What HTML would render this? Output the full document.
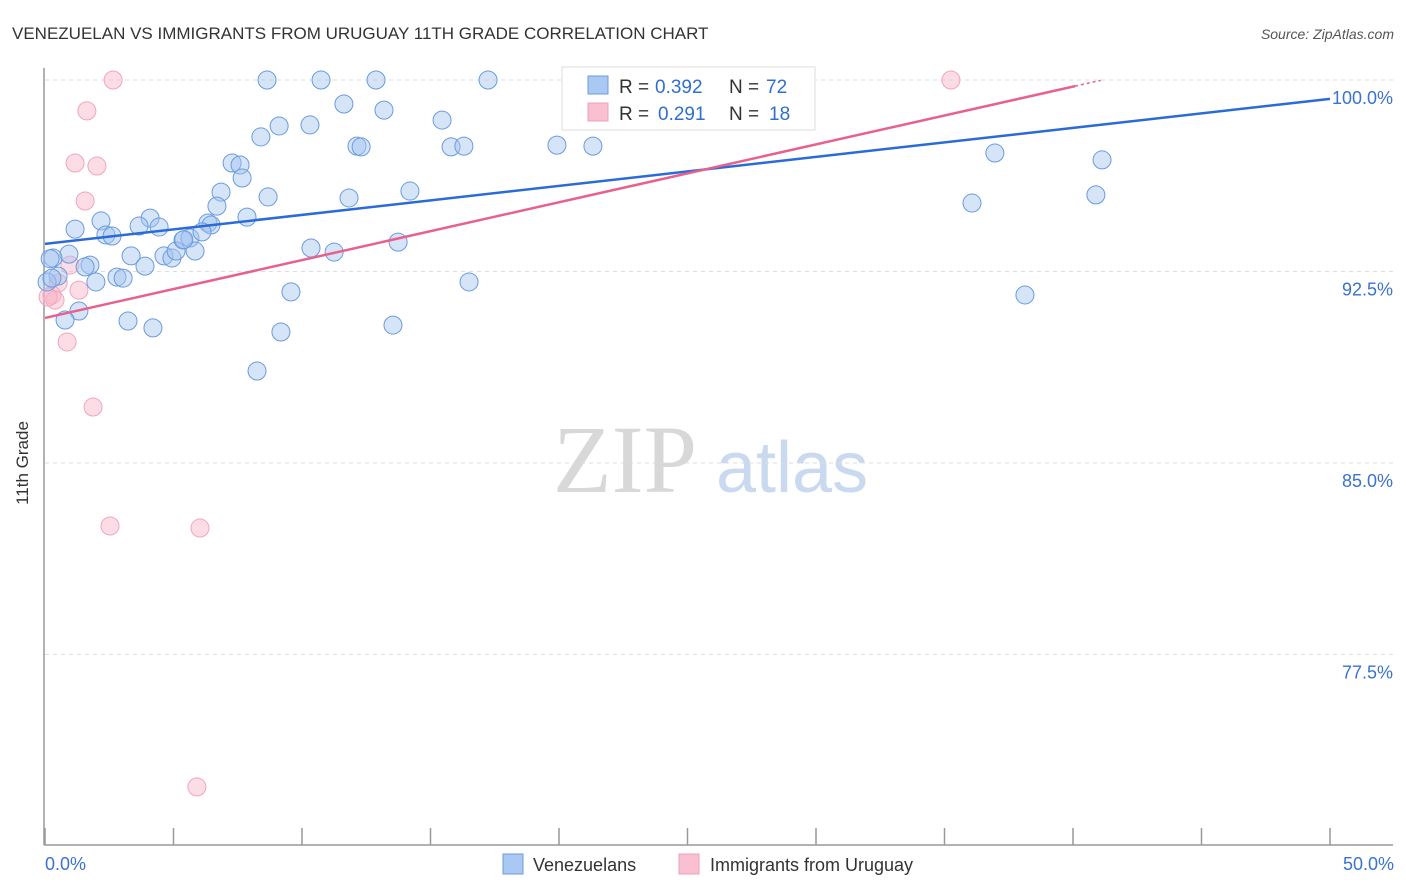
<!DOCTYPE html>
<html><head><meta charset="utf-8"><style>
body{margin:0;background:#fff;font-family:"Liberation Sans",sans-serif;}
svg{display:block}
</style></head><body>
<svg width="1406" height="892" viewBox="0 0 1406 892" xmlns="http://www.w3.org/2000/svg">
<text x="12" y="39" font-size="17" fill="#333">VENEZUELAN VS IMMIGRANTS FROM URUGUAY 11TH GRADE CORRELATION CHART</text>
<text x="1394" y="39" font-size="14" fill="#555" text-anchor="end" font-style="italic">Source: ZipAtlas.com</text>
<g>
<text x="553" y="492" font-size="96" fill="#d8d8d8" font-family="Liberation Serif,serif">ZIP</text>
<text x="716" y="492" font-size="72" fill="#c9d9f0">atlas</text>
</g>
<g id="grid"></g>
<g id="axes"></g>
<g id="pts"></g>
<g id="trend"></g>
<text x="20" y="455" font-size="17" fill="#333" transform="rotate(-90 28 455)" text-anchor="middle">11th Grade</text>
<g>
<rect x="562" y="67" width="253" height="63" fill="#fff" stroke="#ddd"/>
<rect x="588" y="76" width="20" height="18" fill="#a9c8f2" stroke="#6a9be0"/>
<rect x="588" y="103" width="20" height="18" fill="#f8c0d0" stroke="#f0a0b8"/>
<text x="619" y="93" font-size="19" fill="#333">R =</text>
<text x="655" y="93" font-size="19" fill="#2f6fd0">0.392</text>
<text x="729" y="93" font-size="19" fill="#333">N =</text>
<text x="766" y="93" font-size="19" fill="#2f6fd0">72</text>
<text x="619" y="120" font-size="19" fill="#333">R =</text>
<text x="658" y="120" font-size="19" fill="#2f6fd0">0.291</text>
<text x="729" y="120" font-size="19" fill="#333">N =</text>
<text x="769" y="120" font-size="19" fill="#2f6fd0">18</text>
</g>
<g>
<rect x="503" y="854" width="20" height="20" fill="#a9c8f2" stroke="#6a9be0"/>
<text x="533" y="871" font-size="18" fill="#333">Venezuelans</text>
<rect x="679" y="854" width="20" height="20" fill="#f8c0d0" stroke="#f0a0b8"/>
<text x="710" y="871" font-size="18" fill="#333">Immigrants from Uruguay</text>
</g>
</svg>
<script>
const yTicks=[100,92.5,85,77.5];
const yTickLabels=["100.0%","92.5%","85.0%","77.5%"];
const xTickLabels=["0.0%","50.0%"];
const blueX=[8.64,10.74,12.88,17.24,11.63,13.19,15.45,9.11,10.31,8.40,12.14,12.30,15.80,16.30,19.92,21.32,7.28,7.59,7.67,6.85,8.68,14.20,11.83,6.69,36.96,41.13,40.89,36.07,2.18,4.09,7.86,1.17,3.66,4.44,6.34,6.46,2.37,2.61,5.37,5.64,6.11,10.35,11.25,13.74,0.93,3.35,4.63,4.94,5.10,5.84,0.31,1.75,3.89,1.56,0.51,2.80,3.04,1.98,16.50,9.57,38.13,1.32,0.78,3.23,4.20,9.18,13.54,8.25,0.08,0.27,5.40,0.2];
const blueY=[100,100,100,100,99.06,98.82,98.43,98.2,98.24,97.77,97.41,97.38,97.38,97.41,97.45,97.41,96.75,96.67,96.16,95.61,95.42,95.65,95.38,95.06,97.14,96.87,95.50,95.18,94.48,94.59,94.63,94.16,94.28,94.24,94.40,94.32,93.93,93.89,93.73,93.81,94.05,93.42,93.26,93.65,93.18,93.11,93.11,93.03,93.30,93.30,93.03,92.75,92.71,92.68,92.32,92.28,92.24,92.09,92.09,91.70,91.58,90.95,90.60,90.56,90.29,90.13,90.40,88.60,92.09,92.24,93.75,93.0];
const pinkX=[2.65,23.58,35.25,1.63,1.17,2.02,1.56,0.97,0.51,1.32,0.27,0.39,0.86,1.87,2.53,6.03,5.91,0.12];
const pinkY=[100,100,100,98.79,96.75,96.63,95.26,92.75,92.05,91.77,91.58,91.38,89.74,87.19,82.53,82.45,72.31,91.50];
const blueTrend=[93.58,99.26];
const pinkTrend=[90.68,99.76];
const pinkTrendEnd=40.08;
const NS="http://www.w3.org/2000/svg";
const X=v=>45+v*25.7, Y=v=>80+(100-v)*25.53;
function mk(tag,attrs,parent){const e=document.createElementNS(NS,tag);for(const k in attrs)e.setAttribute(k,attrs[k]);document.getElementById(parent).appendChild(e);return e;}
yTicks.forEach((t,i)=>{
 const l=mk('line',{x1:45,x2:1393,y1:Y(t),y2:Y(t),stroke:'#ddd','stroke-dasharray':'4 4'},'grid');
 
 
 const tx=mk('text',{x:1393,y:Y(t)+24,'font-size':18,fill:'#3b72d0','text-anchor':'end'},'grid');
 tx.textContent=yTickLabels[i];
 
 
});
mk('line',{x1:44,x2:44,y1:68,y2:845,stroke:'#999','stroke-width':1.5},'axes');
mk('line',{x1:44,x2:1393,y1:845,y2:845,stroke:'#999','stroke-width':1.5},'axes');
for(let i=0;i<=10;i++){const t=mk('line',{x1:X(i*5),x2:X(i*5),y1:828,y2:845,stroke:'#999','stroke-width':1.5},'axes');
 
 }
[[0,'start',45],[50,'end',1394]].forEach((a,i)=>{const t=mk('text',{x:a[2],y:870,'font-size':18,fill:'#3b72d0','text-anchor':a[1]},'axes');t.textContent=xTickLabels[i];
 
 });
pinkX.forEach((x,i)=>{const c=mk('circle',{cx:X(x),cy:Y(pinkY[i]),r:9,fill:'rgba(248,180,200,0.45)',stroke:'#f2a5bd','stroke-width':1},'pts');
 
 });
blueX.forEach((x,i)=>{const c=mk('circle',{cx:X(x),cy:Y(blueY[i]),r:9,fill:'rgba(164,196,240,0.45)',stroke:'#6a9be0','stroke-width':1},'pts');
 
 });
const bl=mk('line',{x1:X(0),y1:Y(blueTrend[0]),x2:X(50),y2:Y(blueTrend[1]),stroke:'#2a6bd6','stroke-width':2.5},'trend');


const pl=mk('line',{x1:X(0),y1:Y(pinkTrend[0]),x2:X(pinkTrendEnd),y2:Y(pinkTrend[1]),stroke:'#e8608c','stroke-width':2.5},'trend');


const slope=(pinkTrend[1]-pinkTrend[0])/pinkTrendEnd, xe=pinkTrendEnd+1;
const pd=mk('line',{x1:X(pinkTrendEnd),y1:Y(pinkTrend[1]),x2:X(xe),y2:Y(pinkTrend[0]+slope*xe),stroke:'#e8608c','stroke-width':1.5,'stroke-dasharray':'3 3'},'trend');


</script>
</body></html>
